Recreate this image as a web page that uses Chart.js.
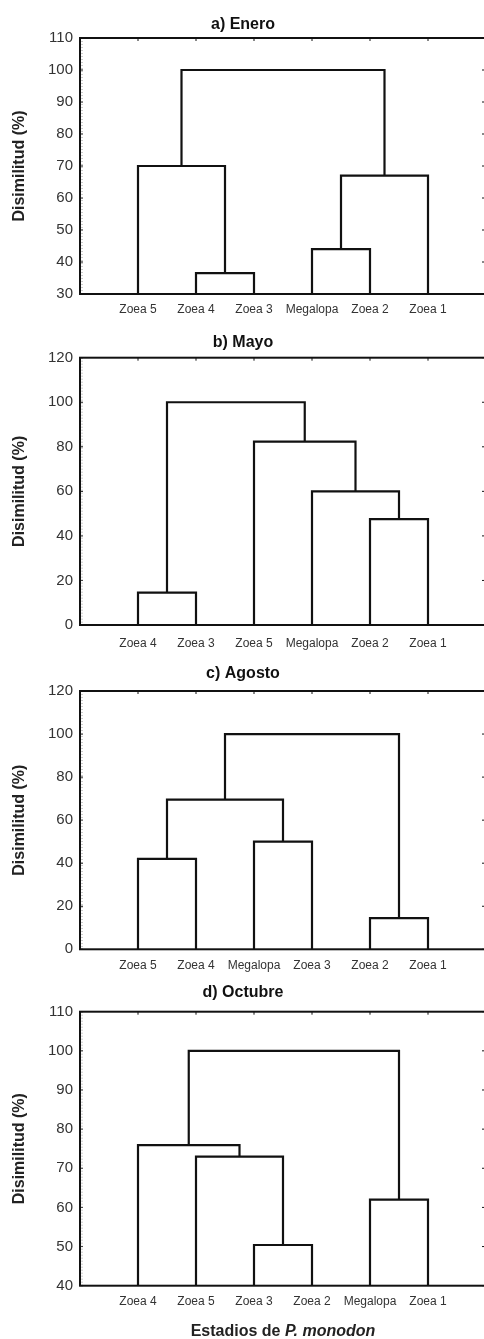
<!DOCTYPE html>
<html>
<head>
<meta charset="utf-8">
<script src="https://cdn.jsdelivr.net/npm/chart.js@4/dist/chart.umd.min.js"></script>
<style>
  html, body { margin: 0; padding: 0; background: #fff; }
  body { width: 484px; height: 1339px; overflow: hidden; position: relative; }
  canvas { position: absolute; left: 0; }
  #xtitulo {
    position: absolute; left: 80px; width: 406px; top: 1322px;
    text-align: center; font: bold 16px "Liberation Sans", Arial, sans-serif; color: #222;
  }
</style>
</head>
<body>
<canvas id="enero" width="490" height="320" style="top:0px"></canvas>
<canvas id="mayo" width="490" height="332" style="top:318px"></canvas>
<canvas id="agosto" width="490" height="328" style="top:650px"></canvas>
<canvas id="octubre" width="490" height="361" style="top:978px"></canvas>
<div id="xtitulo">Estadios de <i>P. monodon</i></div>
<script>
// hojas (orden del dendrograma) y uniones [nodo izq, nodo der, altura]
// nodos 0-5 = hojas, cada union crea el nodo 6, 7, 8...
const eneroHojas = ['Zoea 5', 'Zoea 4', 'Zoea 3', 'Megalopa', 'Zoea 2', 'Zoea 1'];
const eneroUniones = [[1, 2, 36.5], [3, 4, 44], [7, 5, 67], [0, 6, 70], [9, 8, 100]];
const eneroEje = [30, 110, 10];

const mayoHojas = ['Zoea 4', 'Zoea 3', 'Zoea 5', 'Megalopa', 'Zoea 2', 'Zoea 1'];
const mayoUniones = [[0, 1, 14.5], [4, 5, 47.5], [3, 7, 60], [2, 8, 82.3], [6, 9, 100]];
const mayoEje = [0, 120, 20];

const agostoHojas = ['Zoea 5', 'Zoea 4', 'Megalopa', 'Zoea 3', 'Zoea 2', 'Zoea 1'];
const agostoUniones = [[4, 5, 14.5], [0, 1, 42], [2, 3, 50], [7, 8, 69.5], [9, 6, 100]];
const agostoEje = [0, 120, 20];

const octubreHojas = ['Zoea 4', 'Zoea 5', 'Zoea 3', 'Zoea 2', 'Megalopa', 'Zoea 1'];
const octubreUniones = [[2, 3, 50.4], [4, 5, 62], [1, 6, 73], [0, 8, 75.9], [9, 7, 100]];
const octubreEje = [40, 110, 10];

const fuente = '"Liberation Sans", Arial, sans-serif';

// marco negro del area + marcas cortas hacia dentro
const marco = {
  id: 'marco',
  afterDatasetsDraw(chart) {
    const { ctx, chartArea: a, scales } = chart;
    ctx.save();
    ctx.strokeStyle = '#111';
    ctx.lineWidth = 1;
    scales.x.ticks.forEach(t => {
      const px = scales.x.getPixelForValue(t.value);
      ctx.beginPath(); ctx.moveTo(px, a.top); ctx.lineTo(px, a.top + 3); ctx.stroke();
    });
    scales.y.ticks.forEach(t => {
      const py = scales.y.getPixelForValue(t.value);
      ctx.beginPath(); ctx.moveTo(a.left, py); ctx.lineTo(a.left + 3, py);
      ctx.moveTo(a.right, py); ctx.lineTo(a.right - 4, py); ctx.stroke();
    });
    ctx.strokeStyle = '#999';
    ctx.setLineDash([1, 2]);
    ctx.beginPath(); ctx.moveTo(a.left + 2, a.top); ctx.lineTo(a.left + 2, a.bottom); ctx.stroke();
    ctx.setLineDash([]);
    ctx.strokeStyle = '#111';
    ctx.lineWidth = 2;
    ctx.strokeRect(a.left, a.top, a.right - a.left, a.bottom - a.top);
    ctx.restore();
  }
};

function dendrograma(id, titulo, hojas, uniones, eje, caja) {
  const xs = hojas.map((h, i) => i + 1);
  const ys = hojas.map(() => eje[0]);
  const datasets = [];
  uniones.forEach(u => {
    const [a, b, h] = u;
    datasets.push({
      data: [{ x: xs[a], y: ys[a] }, { x: xs[a], y: h }, { x: xs[b], y: h }, { x: xs[b], y: ys[b] }],
      showLine: true,
      borderColor: '#111',
      borderWidth: 2.2,
      borderJoinStyle: 'miter',
      pointRadius: 0,
      tension: 0
    });
    xs.push((xs[a] + xs[b]) / 2);
    ys.push(h);
  });

  new Chart(document.getElementById(id), {
    type: 'scatter',
    data: { datasets },
    options: {
      responsive: false,
      animation: false,
      devicePixelRatio: 1,
      layout: { padding: { left: 0, right: 4, top: 0, bottom: 0 } },
      plugins: {
        legend: { display: false },
        tooltip: { enabled: false },
        title: {
          display: true,
          text: titulo,
          color: '#111',
          font: { family: fuente, size: 16, weight: 'bold' },
          padding: { top: caja.tTop, bottom: caja.tBottom }
        }
      },
      scales: {
        x: {
          type: 'linear',
          min: 0,
          max: hojas.length + 1,
          grid: { display: false, drawTicks: false },
          border: { display: false },
          afterBuildTicks: s => { s.ticks = hojas.map((h, i) => ({ value: i + 1 })); },
          afterFit: s => { s.height = caja.xAlto; },
          ticks: {
            autoSkip: false,
            maxRotation: 0,
            padding: caja.xPad,
            color: '#333',
            font: { family: fuente, size: 12 },
            callback: v => hojas[v - 1]
          }
        },
        y: {
          min: eje[0],
          max: eje[1],
          grid: { display: false, drawTicks: false },
          border: { display: false },
          afterFit: s => { s.width = 80; },
          ticks: {
            stepSize: eje[2],
            padding: 7,
            color: '#333',
            font: { family: fuente, size: 15 }
          },
          title: {
            display: true,
            text: 'Disimilitud (%)',
            color: '#222',
            font: { family: fuente, size: 16, weight: 'bold' },
            padding: { top: 10, bottom: 0 }
          }
        }
      }
    },
    plugins: [marco]
  });
}

dendrograma('enero', 'a) Enero', eneroHojas, eneroUniones, eneroEje,
  { tTop: 15, tBottom: 3.8, xAlto: 26, xPad: 8 });
dendrograma('mayo', 'b) Mayo', mayoHojas, mayoUniones, mayoEje,
  { tTop: 15, tBottom: 5.5, xAlto: 25, xPad: 11 });
dendrograma('agosto', 'c) Agosto', agostoHojas, agostoUniones, agostoEje,
  { tTop: 13.5, tBottom: 8.3, xAlto: 28.7, xPad: 9.5 });
dendrograma('octubre', 'd) Octubre', octubreHojas, octubreUniones, octubreEje,
  { tTop: 5, tBottom: 9.5, xAlto: 53.3, xPad: 9 });
</script>
</body>
</html>
